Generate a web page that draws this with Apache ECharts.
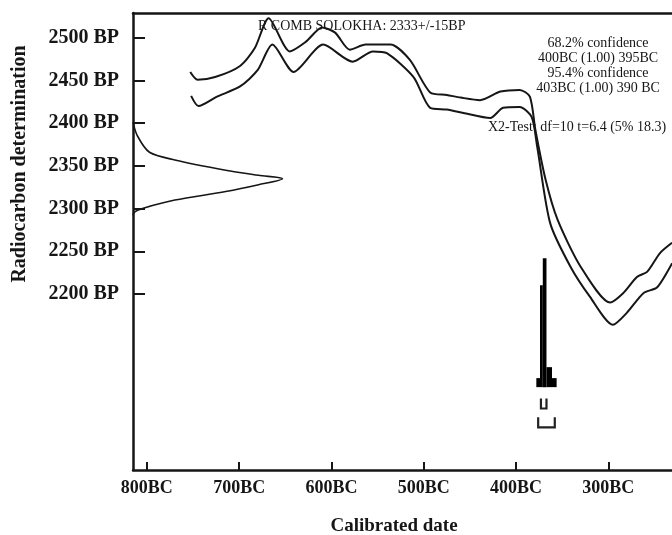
<!DOCTYPE html>
<html>
<head>
<meta charset="utf-8">
<script src="https://cdn.jsdelivr.net/npm/echarts@6/dist/echarts.min.js"></script>
<style>
html,body{margin:0;padding:0;background:#fff;}
#c{width:672px;height:535px;}
</style>
</head>
<body>
<div id="c"></div>
<script>
// ---- data ----
// calibration curve, upper and lower (+/- 1 sigma) bounds: year (negative = BC), BP
const upperYears = [-753,-745,-726,-699,-683,-668,-645,-628,-610,-596,-580,-563,-536,-515,-493,-475,-460,-439,-417,-396,-385,-379,-368,-355,-330,-298,-284,-269,-258,-244,-231];
const upperBP    = [2460,2451,2454,2467,2488,2523,2484,2495,2512,2506,2486,2492,2492,2474,2436,2433,2430,2427,2437,2439,2431,2392,2334,2287,2232,2190,2201,2220,2226,2248,2260];
const lowerYears = [-752,-744,-724,-699,-680,-664,-641,-609,-577,-555,-540,-511,-493,-475,-457,-428,-414,-396,-383,-377,-363,-341,-320,-295,-280,-262,-247,-231];
const lowerBP    = [2432,2420,2431,2443,2462,2492,2460,2492,2472,2484,2482,2454,2418,2416,2412,2406,2418,2419,2407,2372,2283,2232,2197,2164,2178,2201,2208,2236];

// radiocarbon determination 2333 +/- 15 BP (relative probability along BP)
const gaussBP   = [2401,2385,2366,2357,2345,2339,2335,2328,2320,2310,2301,2296,2292];
const gaussProb = [0,0.03,0.11,0.28,0.62,0.84,1.0,0.84,0.62,0.28,0.08,0.01,0];

// calibrated distribution bins: start year, end year, relative probability
const histStart = [-378,-374,-371,-367,-361];
const histEnd   = [-374,-371,-367,-361,-356];
const histProb  = [0.07,0.79,1.0,0.155,0.07];

// confidence ranges (68.2%, 95.4%)
const rangeStart = [-373,-376];
const rangeEnd   = [-367,-358];
const rangeLevel = [2066,2044];

const yTicks = [2200,2250,2300,2350,2400,2450,2500];
const xTicks = [-800,-700,-600,-500,-400,-300];

const titleText = 'R COMB SOLOKHA: 2333+/-15BP';
const confLines = ['68.2% confidence','400BC (1.00) 395BC','95.4% confidence','403BC (1.00) 390 BC'];
const chiText = 'X2-Test: df=10 t=6.4 (5% 18.3)';

// ---- chart ----
const X_MIN = -815, X_MAX = -231, Y_MIN = 1994, Y_MAX = 2529;
const GAUSS_WIDTH = 162;     // years used for the peak of the BP distribution
const HIST_BASE = 2091, HIST_HEIGHT = 151;
const INK = '#161616';
const serif = '"Liberation Serif","Times New Roman",serif';

const upperData = upperYears.map((x,i)=>[x, upperBP[i]]);
const lowerData = lowerYears.map((x,i)=>[x, lowerBP[i]]);
const gaussData = gaussBP.map((b,i)=>[X_MIN + gaussProb[i]*GAUSS_WIDTH, b]);
const histData = histStart.map((s,i)=>[s, histEnd[i], histProb[i]]);
const rangeData = rangeStart.map((s,i)=>[s, rangeEnd[i], rangeLevel[i]]);

const chart = echarts.init(document.getElementById('c'), null, {renderer:'canvas'});
const graphics = [
  {type:'text', left:258, top:19, style:{text:titleText, font:'14px '+serif, fill:INK}},
  {type:'text', x:20, y:164, rotation:Math.PI/2,
   style:{text:'Radiocarbon determination', font:'bold 20px '+serif, fill:INK, align:'center', verticalAlign:'middle'}},
  {type:'text', x:394, y:526,
   style:{text:'Calibrated date', font:'bold 19px '+serif, fill:INK, align:'center', verticalAlign:'middle'}},
  {type:'text', x:488, y:127,
   style:{text:chiText, font:'14px '+serif, fill:INK, align:'left', verticalAlign:'middle'}}
];
confLines.forEach((t,i)=>{
  graphics.push({type:'text', x:598, y:43+15*i,
    style:{text:t, font:'14px '+serif, fill:INK, align:'center', verticalAlign:'middle'}});
});

chart.setOption({
  animation:false,
  backgroundColor:'#fff',
  grid:{left:133, top:13, bottom:65, right:0},
  xAxis:[{
    type:'value', min:X_MIN, max:X_MAX,
    axisLine:{onZero:false, lineStyle:{color:INK, width:2.5}},
    axisTick:{inside:true, length:8, lineStyle:{color:INK, width:2}, customValues:xTicks},
    axisLabel:{customValues:xTicks, formatter:v=>Math.abs(v)+'BC', margin:9,
      fontFamily:serif, fontWeight:'bold', fontSize:18, color:INK},
    splitLine:{show:false}
  },{
    type:'value', position:'top', min:X_MIN, max:X_MAX,
    axisLine:{onZero:false, lineStyle:{color:INK, width:2.5}},
    axisTick:{show:false}, axisLabel:{show:false}, splitLine:{show:false}
  }],
  yAxis:{
    type:'value', min:Y_MIN, max:Y_MAX,
    axisLine:{show:true, lineStyle:{color:INK, width:2.5}},
    axisTick:{show:true, inside:true, length:12, lineStyle:{color:INK, width:2}, customValues:yTicks},
    axisLabel:{customValues:yTicks, formatter:v=>v+' BP', margin:14,
      fontFamily:serif, fontWeight:'bold', fontSize:20, color:INK},
    splitLine:{show:false}
  },
  graphic:graphics,
  series:[
    {type:'line', data:upperData, symbol:'none', smooth:0.25, lineStyle:{color:INK, width:2}},
    {type:'line', data:lowerData, symbol:'none', smooth:0.25, lineStyle:{color:INK, width:2}},
    {type:'line', data:gaussData, symbol:'none', smooth:0.3, lineStyle:{color:INK, width:1.6}},
    {type:'custom', data:histData, clip:false,
     encode:{x:[0,1], y:2},
     renderItem:(params, api)=>{
       const a = api.coord([api.value(0), HIST_BASE]);
       const b = api.coord([api.value(1), HIST_BASE + api.value(2)*HIST_HEIGHT]);
       return {type:'rect', shape:{x:a[0], y:b[1], width:b[0]-a[0], height:a[1]-b[1]}, style:{fill:'#000'}};
     }},
    {type:'custom', data:rangeData, clip:false,
     encode:{x:[0,1], y:2},
     renderItem:(params, api)=>{
       const a = api.coord([api.value(0), api.value(2)]);
       const b = api.coord([api.value(1), api.value(2)]);
       return {type:'polyline', shape:{points:[[a[0],a[1]-10],[a[0],a[1]],[b[0],b[1]],[b[0],b[1]-10]]},
         style:{stroke:'#222', lineWidth:2.2, fill:null}};
     }}
  ]
});
</script>
</body>
</html>
